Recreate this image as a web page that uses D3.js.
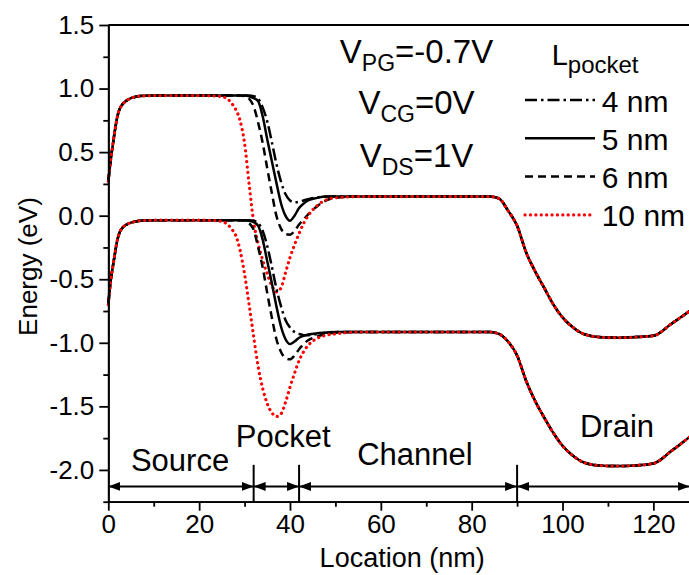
<!DOCTYPE html>
<html>
<head>
<meta charset="utf-8">
<script src="https://cdn.jsdelivr.net/npm/d3@7"></script>
<style>
  body { margin: 0; background: #fff; }
  svg text { font-family: "Liberation Sans", Arial, sans-serif; fill: #000; }
</style>
</head>
<body>
<div id="chart"></div>
<script>
// location grid (nm) shared by every band
const loc = [0, 0.5, 1, 1.5, 2, 2.5, 3, 4, 5, 6, 8, 12, 20,
  24, 26, 27, 28, 29, 30, 31, 32, 33, 34, 35, 36, 37, 38, 39, 40, 41, 42, 43, 44, 46, 48, 50, 55,
  70, 84, 86, 88, 90, 92, 94, 96, 98, 100, 102, 104, 106, 108, 112, 116, 120, 124, 128];

// conduction band (upper) per pocket length
const ec4 = [0.27, 0.43, 0.56, 0.68, 0.78, 0.84, 0.87, 0.905, 0.925, 0.935, 0.943, 0.945, 0.945,
  0.945, 0.945, 0.945, 0.945, 0.945, 0.945, 0.945, 0.94, 0.92, 0.85, 0.74, 0.58, 0.41, 0.27, 0.17, 0.12, 0.105, 0.11, 0.12, 0.13, 0.145, 0.15, 0.15, 0.15,
  0.15, 0.15, 0.135, 0.04, -0.08, -0.29, -0.44, -0.57, -0.70, -0.80, -0.87, -0.92, -0.945, -0.955, -0.96, -0.955, -0.945, -0.85, -0.75];
const ec5 = [0.27, 0.43, 0.56, 0.68, 0.78, 0.84, 0.87, 0.905, 0.925, 0.935, 0.943, 0.945, 0.945,
  0.945, 0.945, 0.945, 0.945, 0.945, 0.945, 0.94, 0.925, 0.90, 0.78, 0.60, 0.43, 0.26, 0.10, 0.0, -0.04, 0.0, 0.06, 0.095, 0.12, 0.14, 0.15, 0.15, 0.15,
  0.15, 0.15, 0.135, 0.04, -0.08, -0.29, -0.44, -0.57, -0.70, -0.80, -0.87, -0.92, -0.945, -0.955, -0.96, -0.955, -0.945, -0.85, -0.75];
const ec6 = [0.27, 0.43, 0.56, 0.68, 0.78, 0.84, 0.87, 0.905, 0.925, 0.935, 0.943, 0.945, 0.945,
  0.945, 0.945, 0.945, 0.945, 0.945, 0.94, 0.92, 0.86, 0.73, 0.57, 0.37, 0.18, 0.0, -0.10, -0.145, -0.15, -0.12, -0.07, -0.03, 0.01, 0.075, 0.12, 0.14, 0.15,
  0.15, 0.15, 0.135, 0.04, -0.08, -0.29, -0.44, -0.57, -0.70, -0.80, -0.87, -0.92, -0.945, -0.955, -0.96, -0.955, -0.945, -0.85, -0.75];
const ec10 = [0.27, 0.43, 0.56, 0.68, 0.78, 0.84, 0.87, 0.905, 0.925, 0.935, 0.943, 0.945, 0.945,
  0.94, 0.925, 0.89, 0.84, 0.75, 0.57, 0.25, -0.05, -0.22, -0.35, -0.46, -0.55, -0.60, -0.57, -0.45, -0.33, -0.23, -0.14, -0.06, 0.0, 0.08, 0.125, 0.14, 0.15,
  0.15, 0.15, 0.135, 0.04, -0.08, -0.29, -0.44, -0.57, -0.70, -0.80, -0.87, -0.92, -0.945, -0.955, -0.96, -0.955, -0.945, -0.85, -0.75];

// valence band (lower) per pocket length
const ev4 = [-0.70, -0.52, -0.40, -0.29, -0.19, -0.13, -0.10, -0.07, -0.055, -0.045, -0.038, -0.035, -0.035,
  -0.035, -0.035, -0.035, -0.035, -0.035, -0.035, -0.035, -0.04, -0.06, -0.12, -0.24, -0.40, -0.57, -0.71, -0.82, -0.88, -0.915, -0.93, -0.94, -0.94, -0.93, -0.92, -0.915, -0.915,
  -0.915, -0.915, -0.93, -0.99, -1.10, -1.30, -1.46, -1.59, -1.71, -1.81, -1.88, -1.93, -1.955, -1.965, -1.97, -1.965, -1.95, -1.85, -1.74];
const ev5 = [-0.70, -0.52, -0.40, -0.29, -0.19, -0.13, -0.10, -0.07, -0.055, -0.045, -0.038, -0.035, -0.035,
  -0.035, -0.035, -0.035, -0.035, -0.035, -0.035, -0.04, -0.05, -0.08, -0.19, -0.36, -0.53, -0.71, -0.87, -0.97, -1.01, -0.99, -0.96, -0.945, -0.935, -0.925, -0.92, -0.915, -0.915,
  -0.915, -0.915, -0.93, -0.99, -1.10, -1.30, -1.46, -1.59, -1.71, -1.81, -1.88, -1.93, -1.955, -1.965, -1.97, -1.965, -1.95, -1.85, -1.74];
const ev6 = [-0.70, -0.52, -0.40, -0.29, -0.19, -0.13, -0.10, -0.07, -0.055, -0.045, -0.038, -0.035, -0.035,
  -0.035, -0.035, -0.035, -0.035, -0.035, -0.04, -0.06, -0.11, -0.25, -0.41, -0.61, -0.80, -0.97, -1.07, -1.12, -1.13, -1.10, -1.05, -1.01, -0.98, -0.95, -0.93, -0.92, -0.915,
  -0.915, -0.915, -0.93, -0.99, -1.10, -1.30, -1.46, -1.59, -1.71, -1.81, -1.88, -1.93, -1.955, -1.965, -1.97, -1.965, -1.95, -1.85, -1.74];
const ev10 = [-0.70, -0.52, -0.40, -0.29, -0.19, -0.13, -0.10, -0.07, -0.055, -0.045, -0.038, -0.035, -0.035,
  -0.04, -0.06, -0.10, -0.15, -0.27, -0.46, -0.70, -0.95, -1.19, -1.36, -1.48, -1.55, -1.58, -1.56, -1.47, -1.35, -1.24, -1.14, -1.07, -1.02, -0.965, -0.94, -0.93, -0.915,
  -0.915, -0.915, -0.93, -0.99, -1.10, -1.30, -1.46, -1.59, -1.71, -1.81, -1.88, -1.93, -1.955, -1.965, -1.97, -1.965, -1.95, -1.85, -1.74];

const seriesNames = ["4 nm", "5 nm", "6 nm", "10 nm"];
const upperBands = [ec4, ec5, ec6, ec10];
const lowerBands = [ev4, ev5, ev6, ev10];

// device regions
const regionEdges = [0, 32, 42, 90, 128];
const regionNames = ["Source", "Pocket", "Channel", "Drain"];

// tick values
const yMajor = [-2.0, -1.5, -1.0, -0.5, 0.0, 0.5, 1.0, 1.5];
const yMinor = [-2.25, -1.75, -1.25, -0.75, -0.25, 0.25, 0.75, 1.25];
const xMajor = [0, 20, 40, 60, 80, 100, 120];
const xMinor = [10, 30, 50, 70, 90, 110];

// styles per series
const styles = [
  { color: "#000", dash: "12 4 2.5 4", width: 2.5, cap: "butt" },
  { color: "#000", dash: null, width: 2.5, cap: "butt" },
  { color: "#000", dash: "8 5", width: 2.5, cap: "butt" },
  { color: "#f00", dash: "0.1 5.3", width: 3.2, cap: "round" }
];

const W = 689, H = 575;
const svg = d3.select("#chart").append("svg")
  .attr("width", W).attr("height", H);

const x = d3.scaleLinear().domain([0, 128]).range([108.3, 689.7]);
const y = d3.scaleLinear().domain([-2.25, 1.5]).range([501.7, 25]);

// arrow marker
const defs = svg.append("defs");
defs.append("marker")
  .attr("id", "arr")
  .attr("markerUnits", "userSpaceOnUse")
  .attr("viewBox", "0 0 12 9")
  .attr("refX", 12).attr("refY", 4.5)
  .attr("markerWidth", 12).attr("markerHeight", 9)
  .attr("orient", "auto-start-reverse")
  .append("path")
  .attr("d", "M0,0 L12,4.5 L0,9 Z")
  .attr("fill", "#000");

// curves
const line = d3.line()
  .x((d, i) => x(loc[i]))
  .y(d => y(d))
  .curve(d3.curveMonotoneX);

const plot = svg.append("g");
[upperBands, lowerBands].forEach(bands => {
  bands.forEach((vals, k) => {
    const s = styles[k];
    plot.append("path")
      .attr("d", line(vals))
      .attr("fill", "none")
      .attr("stroke", s.color)
      .attr("stroke-width", s.width)
      .attr("stroke-linecap", s.cap)
      .attr("stroke-linejoin", "round")
      .attr("stroke-dasharray", s.dash);
  });
});

// region arrows and separators
const arrowY = y(-2.13);
const regions = svg.append("g");
regionNames.forEach((name, i) => {
  regions.append("line")
    .attr("x1", x(regionEdges[i])).attr("x2", x(regionEdges[i + 1]))
    .attr("y1", arrowY).attr("y2", arrowY)
    .attr("stroke", "#000").attr("stroke-width", 2)
    .attr("marker-start", "url(#arr)")
    .attr("marker-end", "url(#arr)");
});
regionEdges.slice(1, -1).forEach(e => {
  regions.append("line")
    .attr("x1", x(e)).attr("x2", x(e))
    .attr("y1", y(-1.96)).attr("y2", y(-2.25))
    .attr("stroke", "#000").attr("stroke-width", 2);
});

// region labels (centre x in nm, baseline in px)
const labelLayout = [[15.8, 470.7], [38.5, 446.7], [67.5, 465], [112, 436.7]];
regionNames.forEach((name, i) => {
  svg.append("text")
    .attr("x", x(labelLayout[i][0])).attr("y", labelLayout[i][1])
    .attr("text-anchor", "middle")
    .attr("font-size", 31)
    .text(name);
});

// axes
const yAxis = svg.append("g").attr("transform", `translate(${x(0)},0)`)
  .call(d3.axisLeft(y).tickValues(yMajor).tickSize(9).tickPadding(5)
    .tickFormat(d => d.toFixed(1)).tickSizeOuter(0));
svg.append("g").attr("transform", `translate(${x(0)},0)`)
  .call(d3.axisLeft(y).tickValues(yMinor).tickSize(5).tickFormat("").tickSizeOuter(0));

const xAxis = svg.append("g").attr("transform", `translate(0,${y(-2.25)})`)
  .call(d3.axisBottom(x).tickValues(xMajor).tickSize(9).tickPadding(4)
    .tickFormat(d3.format("d")).tickSizeOuter(0));
svg.append("g").attr("transform", `translate(0,${y(-2.25)})`)
  .call(d3.axisBottom(x).tickValues(xMinor).tickSize(5).tickFormat("").tickSizeOuter(0));

svg.selectAll(".domain, .tick line").attr("stroke", "#000").attr("stroke-width", 1.8);
svg.selectAll(".tick text").attr("font-size", 26)
  .attr("font-family", "'Liberation Sans', Arial, sans-serif").attr("fill", "#000");

// top frame
svg.append("line")
  .attr("x1", x(0)).attr("x2", x(128))
  .attr("y1", y(1.5)).attr("y2", y(1.5))
  .attr("stroke", "#000").attr("stroke-width", 1.8);

// axis titles
svg.append("text")
  .attr("x", (x(0) + 700) / 2 - 2).attr("y", 567)
  .attr("text-anchor", "middle").attr("font-size", 27)
  .text("Location (nm)");
svg.append("text")
  .attr("transform", `translate(37,${y(-0.4)}) rotate(-90)`)
  .attr("text-anchor", "middle").attr("font-size", 26)
  .text("Energy (eV)");

// bias conditions
const biases = [["PG", "=-0.7V", 62.7], ["CG", "=0V", 114], ["DS", "=1V", 166.7]];
biases.forEach(b => {
  const t = svg.append("text")
    .attr("x", 416.5).attr("y", b[2])
    .attr("text-anchor", "middle").attr("font-size", 33);
  t.append("tspan").text("V");
  t.append("tspan").attr("font-size", 23).attr("dy", 8).text(b[0]);
  t.append("tspan").attr("dy", -8).text(b[1]);
});

// legend
const lg = svg.append("g");
const lt = lg.append("text").attr("x", 551.7).attr("y", 65).attr("font-size", 29);
lt.append("tspan").text("L");
lt.append("tspan").attr("font-size", 24).attr("dy", 8).text("pocket");

seriesNames.forEach((name, k) => {
  const s = styles[k];
  const ly = 100 + k * 38.3;
  lg.append("line")
    .attr("x1", 525).attr("x2", 595)
    .attr("y1", ly).attr("y2", ly)
    .attr("stroke", s.color)
    .attr("stroke-width", s.width)
    .attr("stroke-linecap", s.cap)
    .attr("stroke-dasharray", s.dash);
  lg.append("text")
    .attr("x", 601.7).attr("y", ly + 11.5)
    .attr("font-size", 30)
    .text(name);
});
</script>
</body>
</html>
